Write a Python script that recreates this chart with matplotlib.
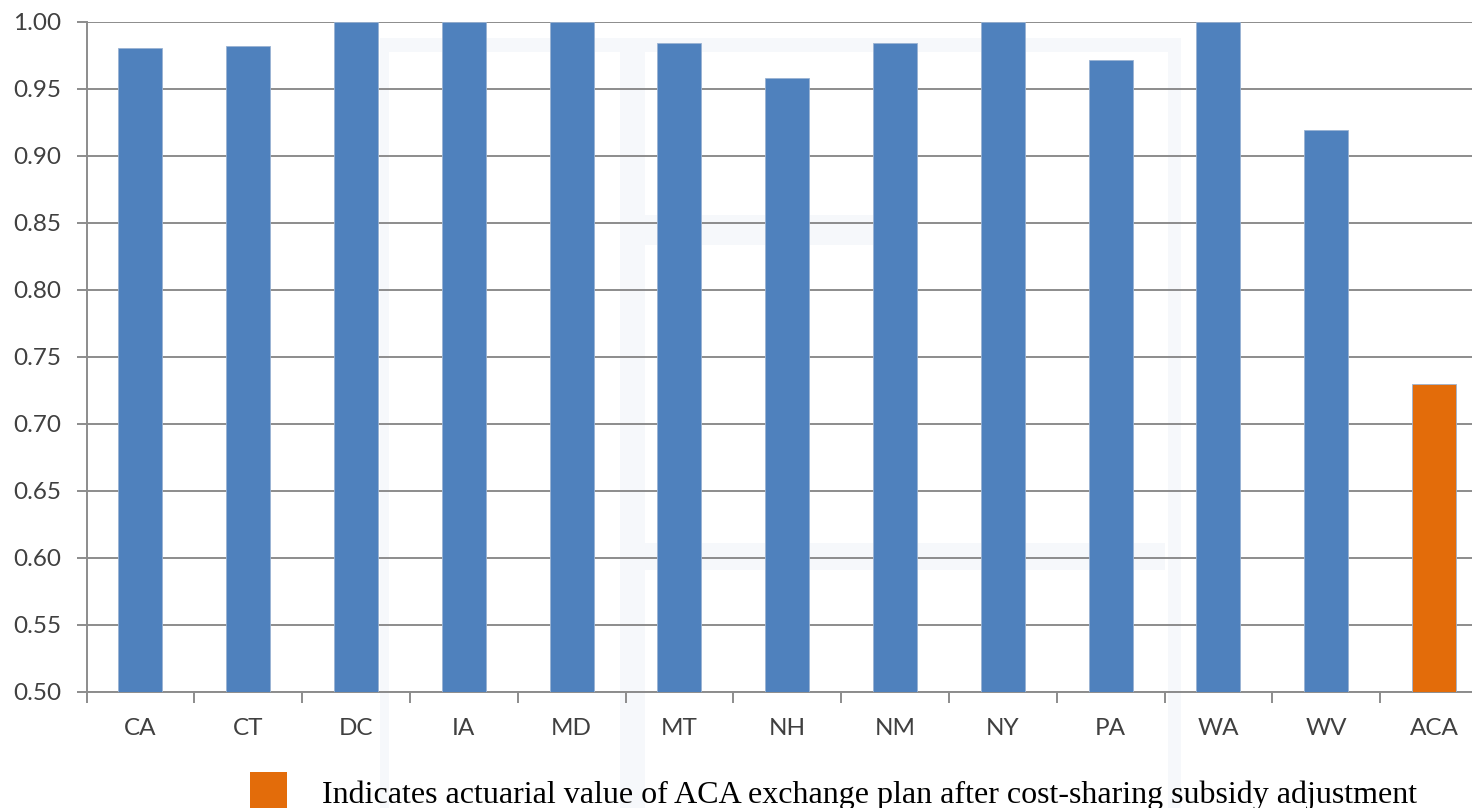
import matplotlib
matplotlib.use("Agg")
import matplotlib.pyplot as plt
from matplotlib.patches import Rectangle

# Actuarial value by state, plus the ACA exchange benchmark
states = ["CA", "CT", "DC", "IA", "MD", "MT", "NH", "NM", "NY", "PA", "WA", "WV", "ACA"]
values = [0.980, 0.982, 1.000, 1.000, 1.000, 0.984, 0.958, 0.984, 1.000, 0.971, 1.000, 0.919, 0.730]
yticks = [0.50, 0.55, 0.60, 0.65, 0.70, 0.75, 0.80, 0.85, 0.90, 0.95, 1.00]
legend_text = "Indicates actuarial value of ACA exchange plan after cost-sharing subsidy adjustment"

BLUE = "#4F81BD"
ORANGE = "#E36C0A"
GRID = "#8C8C8C"
W, H = 1472, 808

fig = plt.figure(figsize=(W / 100, H / 100), dpi=100)
fig.patch.set_facecolor("white")

# faint background emblem, kept beneath the plot
wm = "#F6F8FB"
def fig_rect(x0, y0, x1, y1):
    fig.patches.append(Rectangle((x0 / W, 1 - y1 / H), (x1 - x0) / W, (y1 - y0) / H,
                                 transform=fig.transFigure, facecolor=wm,
                                 edgecolor="none", zorder=-5))
fig_rect(380, 38, 1181, 52)      # top
fig_rect(380, 38, 389, 808)      # left
fig_rect(1168, 38, 1181, 808)    # right
fig_rect(620, 45, 645, 808)      # inner stem
fig_rect(645, 215, 875, 245)     # upper arm
fig_rect(645, 543, 1165, 570)    # lower arm

left = 86.5 / W
bottom = (H - 692) / H
top = (H - 21.5) / H
width = 13 * 107.8 / W
ax = fig.add_axes([left, bottom, width, top - bottom])
ax.set_facecolor("none")
ax.set_zorder(1)

colors = [BLUE] * (len(states) - 1) + [ORANGE]
x = list(range(len(states)))
ax.bar(x, [v - 0.5 for v in values], bottom=0.5, width=0.41, color=colors,
       edgecolor="#9AB3D3", linewidth=0.6, zorder=3)

ax.set_xlim(-0.5, len(states) - 0.5)
ax.set_ylim(0.5, 1.0)
ax.set_yticks(yticks)
ax.set_yticklabels([f"{t:.2f}" for t in yticks])
ax.set_xticks(x)
ax.set_xticklabels(states)
ax.set_xticks([i - 0.5 for i in range(len(states) + 1)], minor=True)

ax.yaxis.grid(True, color=GRID, linewidth=1.4, zorder=1)
ax.set_axisbelow(True)
for s in ["top", "right"]:
    ax.spines[s].set_visible(False)
for s in ["left", "bottom"]:
    ax.spines[s].set_color(GRID)
    ax.spines[s].set_linewidth(1.4)

tick_family = ["Lato", "DejaVu Sans"]
ax.tick_params(axis="y", length=7, width=1.4, color=GRID, pad=11)
ax.tick_params(axis="x", which="major", length=0, pad=19)
ax.tick_params(axis="x", which="minor", length=8, width=1.4, color=GRID)
for lab in ax.get_yticklabels() + ax.get_xticklabels():
    lab.set_fontfamily(tick_family)
    lab.set_fontsize(17.5)
    lab.set_color("#404040")

# legend key below the chart
fig.patches.append(Rectangle((250 / W, 1 - 810 / H), 37 / W, 38 / H,
                             transform=fig.transFigure, facecolor=ORANGE,
                             edgecolor="none", zorder=5))
fig.text(322 / W, 1 - 803 / H, legend_text, family=["Liberation Serif", "DejaVu Serif"],
         size=23, color="black", ha="left", va="baseline")

fig.savefig("out.png", dpi=100)
